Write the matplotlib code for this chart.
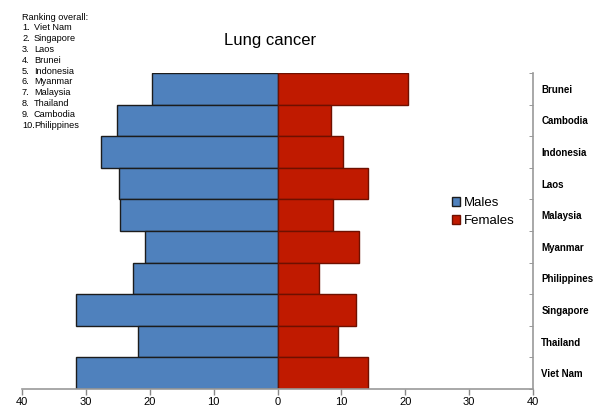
import numpy as np
import matplotlib.pyplot as plt

plt.rcParams['font.family'] = ['Liberation Sans', 'DejaVu Sans']

countries = ['Brunei', 'Cambodia', 'Indonesia', 'Laos', 'Malaysia',
             'Myanmar', 'Philippines', 'Singapore', 'Thailand', 'Viet Nam']
males = [19.7, 25.2, 27.7, 24.8, 24.6, 20.7, 22.7, 31.5, 21.8, 31.5]
females = [20.5, 8.4, 10.3, 14.2, 8.75, 12.8, 6.5, 12.3, 9.5, 14.2]
ranking = ['Viet Nam', 'Singapore', 'Laos', 'Brunei', 'Indonesia',
           'Myanmar', 'Malaysia', 'Thailand', 'Cambodia', 'Philippines']
xticks = [-40, -30, -20, -10, 0, 10, 20, 30, 40]

fig = plt.figure(figsize=(6.08, 4.09), dpi=100)
ax = fig.add_axes([22 / 608, 1 - 389 / 409, 511 / 608, 316 / 409])

y = np.arange(len(countries))[::-1]
ax.barh(y, -np.array(males), height=1.0, color='#4F81BD', edgecolor='#1c1c1c',
        linewidth=1.0, label='Males')
ax.barh(y, females, height=1.0, color='#C01A00', edgecolor='#6e1000',
        linewidth=1.0, label='Females')

ax.set_xlim(-40, 40)
ax.set_ylim(-0.5, len(countries) - 0.5)

# bottom axis
ax.set_xticks(xticks)
ax.set_xticklabels([str(abs(t)) for t in xticks], fontsize=8)
ax.tick_params(axis='x', direction='out', length=4, width=1, color='#888888', pad=2)

# right axis with category labels
ax.yaxis.tick_right()
ax.set_yticks(y)
ax.set_yticklabels(countries, fontsize=7, fontweight='bold')
ax.set_yticks(np.arange(-0.5, len(countries)), minor=True)
ax.tick_params(axis='y', which='major', length=0, pad=6)
ax.tick_params(axis='y', which='minor', direction='in', length=3, color='#888888',
               right=True, left=False)

for s in ['top', 'left']:
    ax.spines[s].set_visible(False)
for s in ['bottom', 'right']:
    ax.spines[s].set_color('#999999')
    ax.spines[s].set_linewidth(1.2)

ax.legend(loc='center left', bbox_to_anchor=(0.832, 0.56), frameon=False,
          fontsize=9.5, handlelength=0.6, handleheight=0.6, handletextpad=0.25,
          labelspacing=0.45, borderaxespad=0)

fig.text(270 / 608, 1 - 40 / 409, 'Lung cancer', ha='center', va='center', fontsize=12)

fig.text(22 / 608, 1 - 17 / 409, 'Ranking overall:', ha='left', va='center', fontsize=6.6)
for i, name in enumerate(ranking):
    yy = 1 - (28 + i * 10.8) / 409
    fig.text(22 / 608, yy, f'{i + 1}.', ha='left', va='center', fontsize=6.6)
    fig.text(34 / 608, yy, name, ha='left', va='center', fontsize=6.6)

fig.savefig('out.png', dpi=100)
